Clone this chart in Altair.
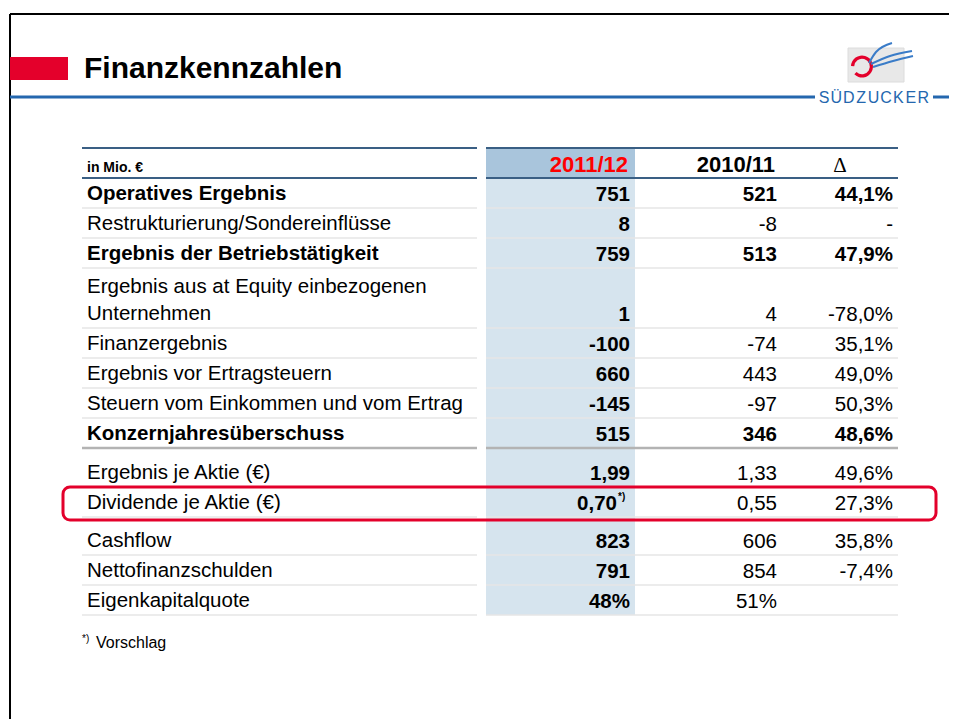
import math
import altair as alt
import pandas as pd

# ---------------- content ----------------
title = "Finanzkennzahlen"
brand = "SÜDZUCKER"
unit_label = "in Mio. €"
col_headers = ["2011/12", "2010/11", "Δ"]
labels = [
    "Operatives Ergebnis",
    "Restrukturierung/Sondereinflüsse",
    "Ergebnis der Betriebstätigkeit",
    "Ergebnis aus at Equity einbezogenen\nUnternehmen",
    "Finanzergebnis",
    "Ergebnis vor Ertragsteuern",
    "Steuern vom Einkommen und vom Ertrag",
    "Konzernjahresüberschuss",
    "Ergebnis je Aktie (€)",
    "Dividende je Aktie (€)",
    "Cashflow",
    "Nettofinanzschulden",
    "Eigenkapitalquote",
]
bold_rows = [True, False, True, False, False, False, False, True, False, False, False, False, False]
v_2011 = ["751", "8", "759", "1", "-100", "660", "-145", "515", "1,99", "0,70", "823", "791", "48%"]
v_2010 = ["521", "-8", "513", "4", "-74", "443", "-97", "346", "1,33", "0,55", "606", "854", "51%"]
delta = ["44,1%", "-", "47,9%", "-78,0%", "35,1%", "49,0%", "50,3%", "48,6%", "49,6%", "27,3%", "35,8%", "-7,4%", ""]
footnote_marker = "*)"
footnote_text = "Vorschlag"
highlight_row = 9
footnote_row = 9
group_starts = {8: 9, 10: 8}   # extra space before these rows
thick_after = 7                # grey separator after this row

# ---------------- layout (page pixels) ----------------
PW, PH = 949, 719              # drawable page extent (8px body margin)
FONT = "Liberation Sans"
FS = 20.5
TL, LBL_R, SH_L, SH_R, TR = 82, 477, 486, 635, 898
HEAD_TOP, HEAD_BOT = 148, 178
ROW_H, LINE_H = 30, 27
X_LABEL, X_C1, X_C2, X_C3, X_DELTA = 87, 630, 777, 893, 840

tops, bots = [], []
cur = HEAD_BOT
for i, lab in enumerate(labels):
    cur += group_starts.get(i, 0)
    n = lab.count("\n") + 1
    tops.append(cur)
    cur += ROW_H * n
    bots.append(cur)

xs = alt.Scale(domain=[8, PW], nice=False, zero=False)
ys = alt.Scale(domain=[8, PH], nice=False, zero=False, reverse=True)


def enc_xy(ch, has2=False):
    e = dict(x=alt.X("x:Q", scale=xs, axis=None), y=alt.Y("y:Q", scale=ys, axis=None))
    if has2:
        e["x2"] = "x2:Q"
        e["y2"] = "y2:Q"
    return ch.encode(**e)


def text_layer(rows, **kw):
    kw.setdefault("baseline", "alphabetic")
    df = pd.DataFrame(rows, columns=["x", "y", "t"])
    ch = alt.Chart(df).mark_text(**kw)
    return ch.encode(
        x=alt.X("x:Q", scale=xs, axis=None),
        y=alt.Y("y:Q", scale=ys, axis=None),
        text="t:N",
    )


def seg_layer(rows, **kw):
    df = pd.DataFrame(rows, columns=["x", "x2", "y", "y2"])
    return enc_xy(alt.Chart(df).mark_rule(**kw), True)


def rect_layer(rows, **kw):
    df = pd.DataFrame(rows, columns=["x", "x2", "y", "y2"])
    return enc_xy(alt.Chart(df).mark_rect(**kw), True)


layers = []

# frame
layers.append(seg_layer([(10, PW, 14, 14), (10, 10, 14, PH)], color="#000000", strokeWidth=2))
# title bar
layers.append(rect_layer([(10, 68, 57, 80)], color="#e4002b"))
layers.append(text_layer([(84, 78, title)], align="left",
                         font=FONT, fontSize=30, fontWeight="bold", color="#000000"))
layers.append(seg_layer([(10, 815, 97, 97), (933, PW, 97, 97)], color="#2467ae", strokeWidth=3))
# brand letters
brand_rows = [(824 + i * 12.4, 103, ch) for i, ch in enumerate(brand)]
layers.append(text_layer(brand_rows, align="center",
                         font="Liberation Sans Narrow, Liberation Sans", fontSize=16, color="#2467ae"))
# logo
layers.append(rect_layer([(848, 904, 48, 82)], color="#e8e8e8", stroke="#dcdcdc", strokeWidth=1))
arc_df = pd.DataFrame({"x": [862], "y": [66.5]})
layers.append(alt.Chart(arc_df).mark_arc(radius=11, radius2=7.8, theta=4.75, theta2=10.2, color="#e4002b")
              .encode(x=alt.X("x:Q", scale=xs, axis=None), y=alt.Y("y:Q", scale=ys, axis=None)))
swoosh = pd.DataFrame({
    "s": ["a"] * 3 + ["b"] * 3 + ["c"] * 3,
    "o": [0, 1, 2] * 3,
    "x": [869, 876, 892, 871, 890, 912, 873, 893, 913],
    "y": [63, 52, 43, 64, 56, 51, 67, 61, 56],
})
layers.append(alt.Chart(swoosh).mark_line(color="#3a7cc8", strokeWidth=2, interpolate="monotone")
              .encode(x=alt.X("x:Q", scale=xs, axis=None), y=alt.Y("y:Q", scale=ys, axis=None),
                      detail="s:N", order="o:O"))

# shaded column
layers.append(rect_layer([(SH_L, SH_R, HEAD_TOP, HEAD_BOT)], color="#a9c5dc"))
layers.append(rect_layer([(SH_L, SH_R, HEAD_BOT, bots[-1])], color="#d6e4ee"))

# row lines
thin, thick = [], []
for i, b in enumerate(bots):
    target = thick if i == thick_after else thin
    target.append((TL, LBL_R, b, b))
    target.append((SH_L, TR, b, b))
layers.append(seg_layer(thin, color="#e6e6e6", strokeWidth=1.6))
layers.append(seg_layer(thick, color="#b3b3b3", strokeWidth=2.5))
# header lines
layers.append(seg_layer([(TL, LBL_R, HEAD_TOP, HEAD_TOP), (SH_L, TR, HEAD_TOP, HEAD_TOP),
                         (TL, LBL_R, HEAD_BOT, HEAD_BOT), (SH_L, TR, HEAD_BOT, HEAD_BOT)],
                        color="#3a5f84", strokeWidth=2.2))

# header texts
layers.append(text_layer([(X_LABEL, 172, unit_label)], align="left", font=FONT, fontSize=14,
                         fontWeight="bold", color="#000000"))
layers.append(text_layer([(628, 172, col_headers[0])], align="right", font=FONT, fontSize=22,
                         fontWeight="bold", color="#ff0000"))
layers.append(text_layer([(775, 172, col_headers[1])], align="right", font=FONT, fontSize=22,
                         fontWeight="bold", color="#000000"))
layers.append(text_layer([(X_DELTA, 172, col_headers[2])], align="center",
                         font="Liberation Serif, Times New Roman", fontSize=21, color="#000000"))

# body texts
lab_b, lab_r, c1, c2b, c2r, c3b, c3r = [], [], [], [], [], [], []
for i, lab in enumerate(labels):
    parts = lab.split("\n")
    n = len(parts)
    for k, p in enumerate(parts):
        y = bots[i] - 8 - (n - 1 - k) * LINE_H
        (lab_b if bold_rows[i] else lab_r).append((X_LABEL, y, p))
    yv = bots[i] - 7
    c1.append((X_C1 - (13 if i == footnote_row else 0), yv, v_2011[i]))
    (c2b if bold_rows[i] else c2r).append((X_C2, yv, v_2010[i]))
    (c3b if bold_rows[i] else c3r).append((X_C3, yv, delta[i]))

common = dict(font=FONT, fontSize=FS, color="#000000")
layers.append(text_layer(lab_b, align="left", fontWeight="bold", **common))
layers.append(text_layer(lab_r, align="left", **common))
layers.append(text_layer(c1, align="right", fontWeight="bold", **common))
layers.append(text_layer(c2b, align="right", fontWeight="bold", **common))
layers.append(text_layer(c2r, align="right", **common))
layers.append(text_layer(c3b, align="right", fontWeight="bold", **common))
layers.append(text_layer(c3r, align="right", **common))
# superscript marker
layers.append(text_layer([(X_C1 - 12, bots[footnote_row] - 17, footnote_marker)], align="left",
                         font=FONT, fontSize=10, fontWeight="bold", color="#000000"))

# highlight box
hb = highlight_row
layers.append(rect_layer([(TL - 19, TR + 38, tops[hb], bots[hb] + 3)], fillOpacity=0,
                         stroke="#e3002b", strokeWidth=3, cornerRadius=7))

# footnote
layers.append(text_layer([(82, 642, footnote_marker)], align="left", font=FONT, fontSize=10,
                         color="#000000"))
layers.append(text_layer([(96, 648, footnote_text)], align="left", font=FONT, fontSize=16,
                         color="#000000"))

chart = alt.layer(*layers).properties(
    width=PW - 8, height=PH - 8, padding=0,
    autosize=alt.AutoSizeParams(type="none"),
    background="#ffffff",
).configure_view(strokeWidth=0)

chart.save("out.html", embed_options={"renderer": "svg", "actions": False})
